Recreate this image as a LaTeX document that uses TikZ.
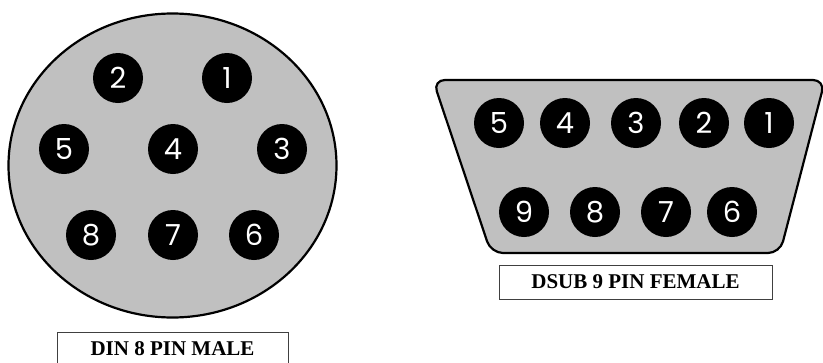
\documentclass[tikz,border=0pt]{standalone}
\usepackage{fontspec}
\usetikzlibrary{shapes.geometric}
\setmainfont{Liberation Serif}
\newfontfamily\pinfont{Poppins}
\definecolor{connfill}{HTML}{C0C0C0}
\definecolor{boxline}{HTML}{404040}
\tikzset{
  pin/.style={circle, fill=black, minimum size=50pt, inner sep=0pt,
    text=white, font=\pinfont\fontsize{29}{29}\selectfont},
  shell/.style={draw=black, line width=2.2pt, fill=connfill},
  labelbox/.style={draw=boxline, line width=0.9pt, fill=white, inner sep=0pt,
    font=\bfseries\fontsize{21}{22}\selectfont}
}
\begin{document}
\begin{tikzpicture}[x=1pt,y=-1pt]
\useasboundingbox (0,0) rectangle (823,362);
% DIN 8 connector
\node[shell, ellipse, minimum width=328pt, minimum height=304pt, inner sep=0pt] (din) at (172.5,165.5) {};
\node[pin] (d2) at (118,78) {2};
\node[pin] (d1) at (227,78) {1};
\node[pin] (d5) at (64,149) {5};
\node[pin] (d4) at (173,149) {4};
\node[pin] (d3) at (282,149) {3};
\node[pin] (d8) at (91,235) {8};
\node[pin] (d7) at (173,235) {7};
\node[pin] (d6) at (254,235) {6};
\node[labelbox, minimum width=231pt, minimum height=34pt] (dinlabel) at (172.5,349) {DIN 8 PIN MALE};
% DSUB 9 connector
\draw[shell, rounded corners=12pt] (433,80) -- (825,80) -- (780,253) -- (491,253) -- cycle;
\node[pin] (s5) at (499,123) {5};
\node[pin] (s4) at (565,123) {4};
\node[pin] (s3) at (636,123) {3};
\node[pin] (s2) at (704,123) {2};
\node[pin] (s1) at (769,123) {1};
\node[pin] (s9) at (524,212) {9};
\node[pin] (s8) at (595,212) {8};
\node[pin] (s7) at (666,212) {7};
\node[pin] (s6) at (732,212) {6};
\node[labelbox, minimum width=273pt, minimum height=34pt] (dsublabel) at (635.5,282) {DSUB 9 PIN FEMALE};
\end{tikzpicture}
\end{document}
